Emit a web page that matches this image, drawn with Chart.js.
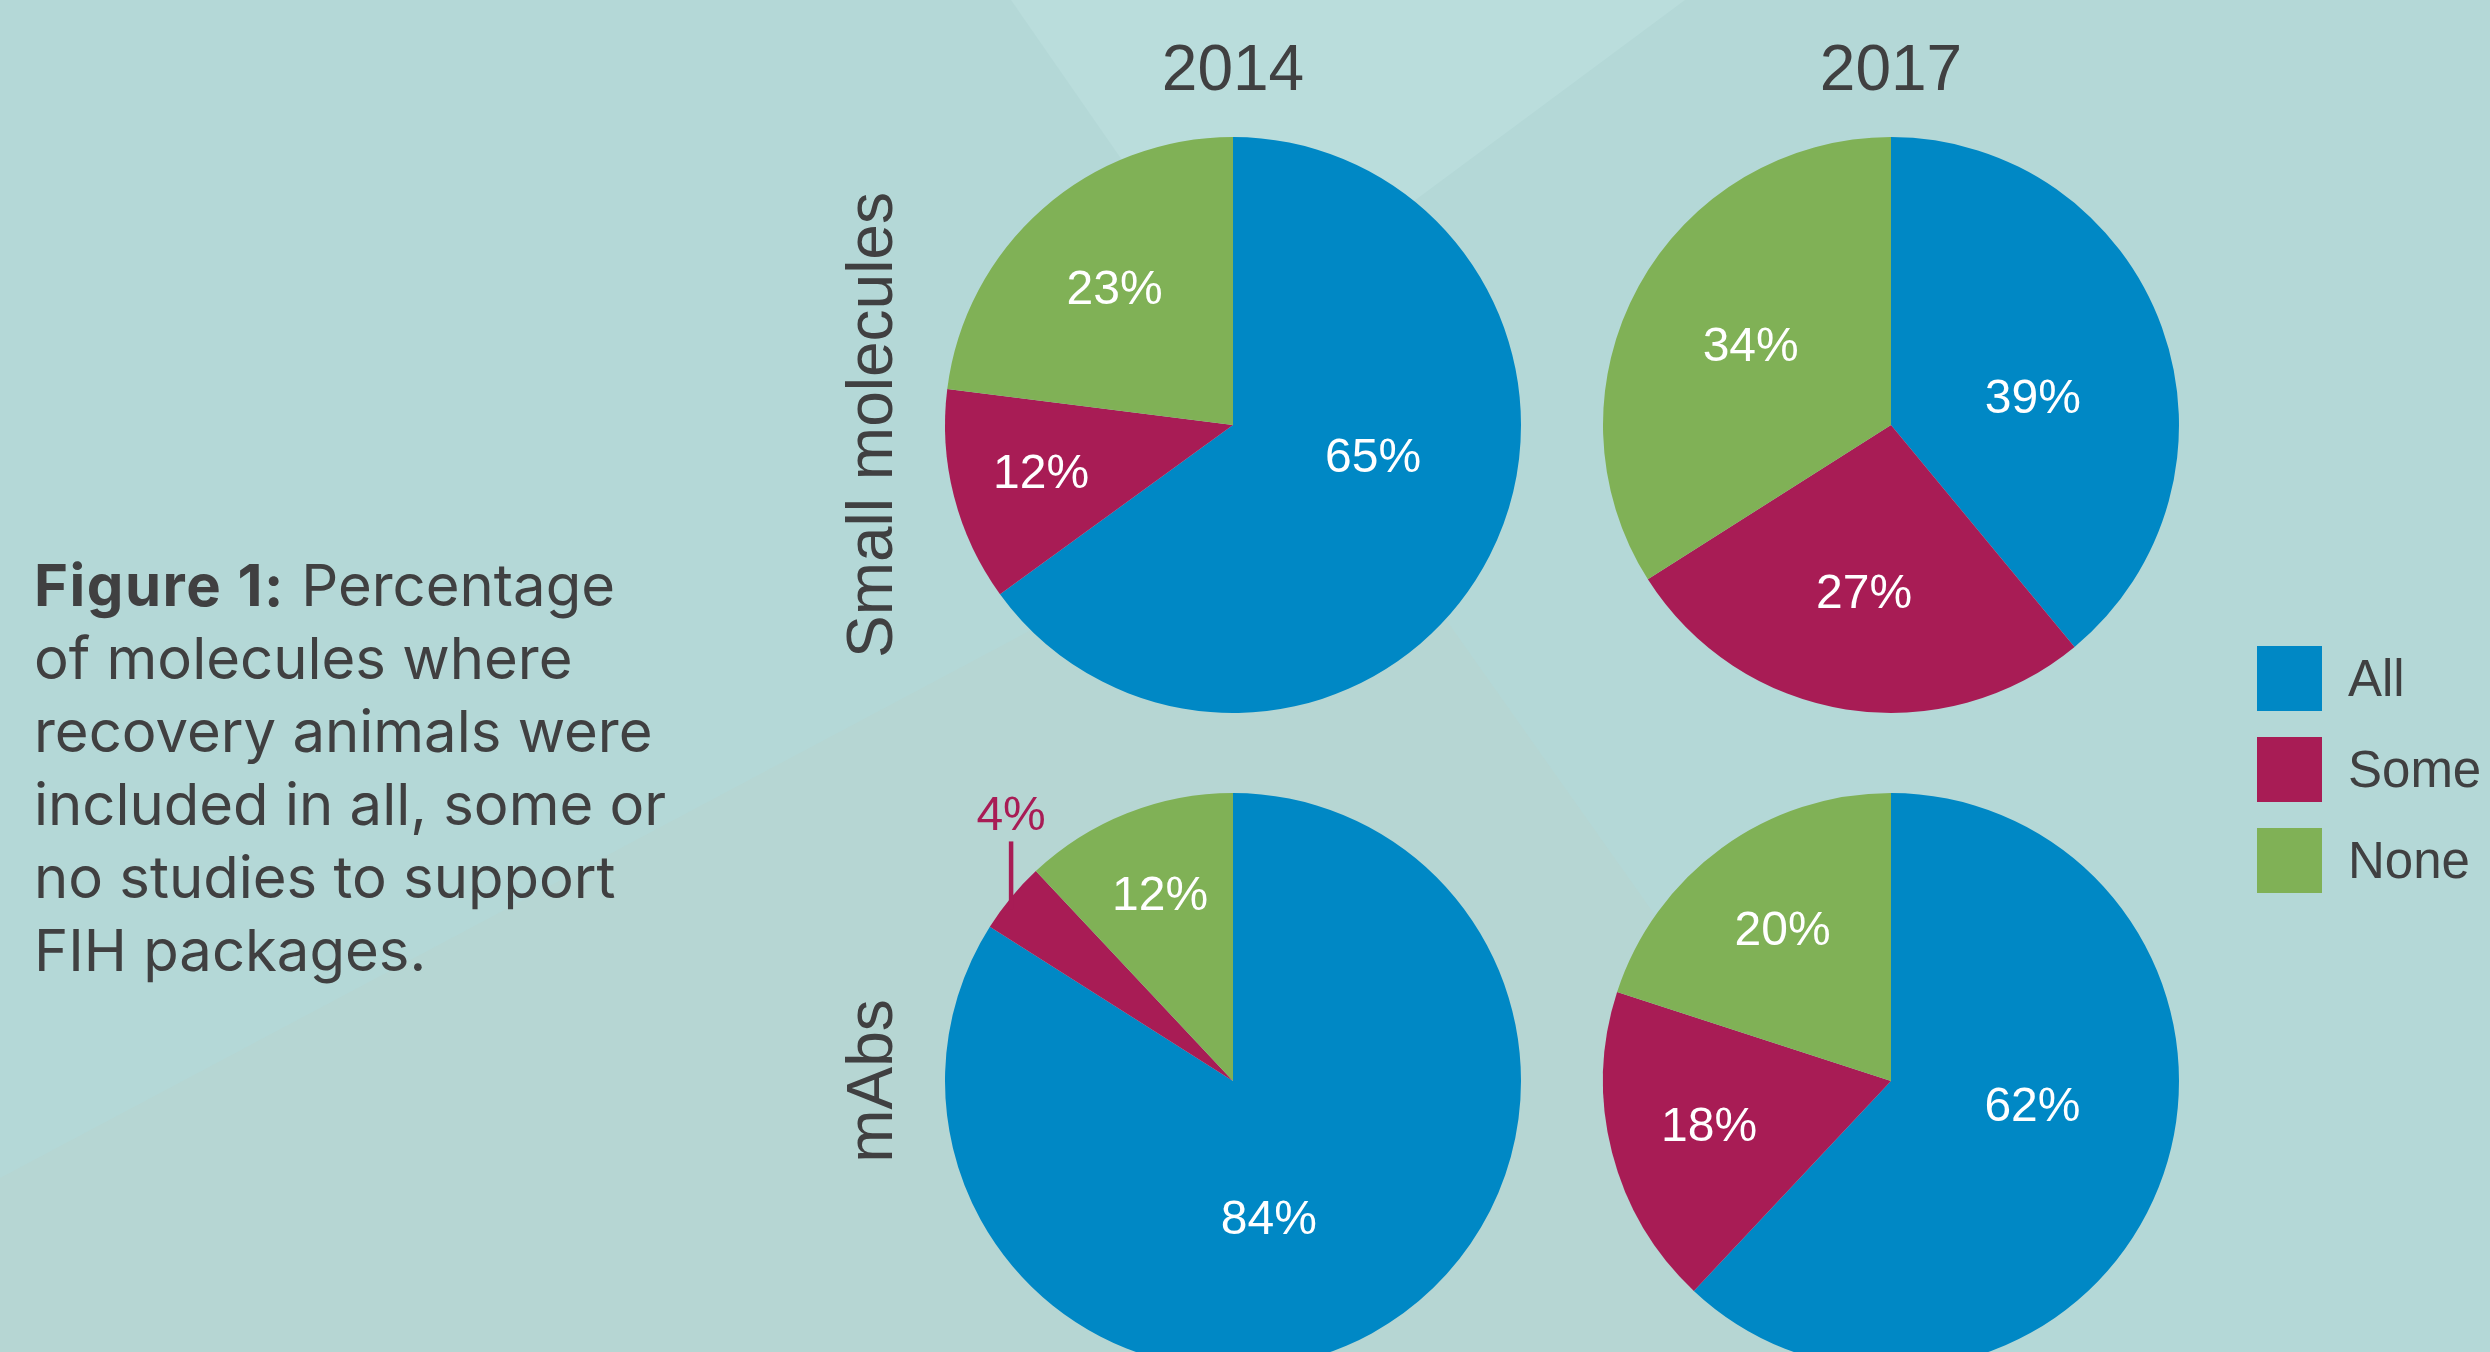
<!DOCTYPE html>
<html>
<head>
<meta charset="utf-8">
<script src="https://cdn.jsdelivr.net/npm/chart.js@4.4.1/dist/chart.umd.min.js"></script>
<style>
  html, body { margin: 0; padding: 0; }
  body {
    width: 2490px; height: 1352px; overflow: hidden; position: relative;
    background: #b4d8d7; color: #404041;
    font-family: "Liberation Sans", Arial, sans-serif;
  }
  #bg { position: absolute; left: 0; top: 0; }
  .caption {
    position: absolute; left: 34px; top: 549px;
    font-family: Inter, "Open Sans", sans-serif; font-size: 58px; line-height: 73px;
  }
  .caption b { font-weight: 700; letter-spacing: 1.5px; }
  .col-title {
    position: absolute; width: 300px; text-align: center;
    font-size: 64px; line-height: 64px; top: 36px;
  }
  .row-title {
    position: absolute; width: 600px; text-align: center;
    font-size: 64px; line-height: 64px;
    transform: translate(-50%, -50%) rotate(-90deg);
  }
  .pie { position: absolute; width: 600px; height: 600px; }
  .legend { position: absolute; left: 2257px; top: 646px; }
  .legend div { display: flex; align-items: center; height: 65px; margin-bottom: 26px; font-size: 51px; }
  .legend span.sw { width: 65px; height: 65px; margin-right: 26px; }
</style>
</head>
<body>
<svg id="bg" width="2490" height="1352">
  <polygon points="1011,0 1685,0 1240,330" fill="#badddc"/>
  <polygon points="1338,467 0,1178 0,1352 1964,1352" fill="#b6d6d3"/>
</svg>

<div class="caption"><b>Figure 1:</b> Percentage<br>of molecules where<br>recovery animals were<br>included in all, some or<br>no studies to support<br>FIH packages.</div>

<div id="titles"></div>
<div class="legend" id="legend"></div>

<canvas id="pie0" class="pie" width="600" height="600"></canvas>
<canvas id="pie1" class="pie" width="600" height="600"></canvas>
<canvas id="pie2" class="pie" width="600" height="600"></canvas>
<canvas id="pie3" class="pie" width="600" height="600"></canvas>

<script>
const categories = ["All", "Some", "None"];
const years = ["2014", "2017"];
const groups = ["Small molecules", "mAbs"];

const small2014 = [65, 12, 23];
const small2017 = [39, 27, 34];
const mabs2014 = [84, 4, 12];
const mabs2017 = [62, 18, 20];

const colors = ["#0088c5", "#a81c55", "#80b156"];

// layout of the 2x2 grid of pies
const colX = [1233, 1891];
const rowY = [425, 1081];

const pies = [
  { values: small2014, col: 0, row: 0 },
  { values: small2017, col: 1, row: 0 },
  { values: mabs2014, col: 0, row: 1 },
  { values: mabs2017, col: 1, row: 1 }
];

// column + row titles
const titles = document.getElementById("titles");
years.forEach((y, i) => {
  const d = document.createElement("div");
  d.className = "col-title";
  d.style.left = (colX[i] - 150) + "px";
  d.textContent = y;
  titles.appendChild(d);
});
groups.forEach((g, i) => {
  const d = document.createElement("div");
  d.className = "row-title";
  d.style.left = "870px";
  d.style.top = rowY[i] + "px";
  d.textContent = g;
  titles.appendChild(d);
});

// legend
const legend = document.getElementById("legend");
categories.forEach((c, i) => {
  const row = document.createElement("div");
  row.innerHTML = `<span class="sw" style="background:${colors[i]}"></span><span>${c}</span>`;
  legend.appendChild(row);
});

// percent labels drawn on the slices ("best fit" style)
const sliceLabels = {
  id: "sliceLabels",
  afterDatasetsDraw(chart) {
    const ctx = chart.ctx;
    const meta = chart.getDatasetMeta(0);
    const values = chart.data.datasets[0].data;
    ctx.save();
    ctx.font = "48px 'Liberation Sans', Arial, sans-serif";
    ctx.textAlign = "center";
    meta.data.forEach((arc, i) => {
      let mid = (arc.startAngle + arc.endAngle) / 2;
      const r = arc.outerRadius;
      const v = values[i];
      if (v < 5) {
        // small slice: label outside with a leader line
        const ax = arc.x + Math.cos(mid) * r;
        const ay = arc.y + Math.sin(mid) * r;
        ctx.strokeStyle = colors[i];
        ctx.lineWidth = 4.5;
        ctx.beginPath();
        ctx.moveTo(ax, ay + 12);
        ctx.lineTo(ax, ay - 56);
        ctx.stroke();
        ctx.fillStyle = colors[i];
        ctx.textBaseline = "alphabetic";
        ctx.fillText(v + "%", ax, ay - 67);
        return;
      }
      let f;
      if (v >= 35) {
        // big slices: half radius, nudged toward the nearest axis
        const q = Math.round(mid / (Math.PI / 2)) * (Math.PI / 2);
        mid = mid + (q - mid) * 0.5;
        f = 0.5;
      } else {
        f = 0.76 - 0.006 * v;
      }
      ctx.fillStyle = "#ffffff";
      ctx.textBaseline = "middle";
      ctx.fillText(v + "%", arc.x + Math.cos(mid) * r * f, arc.y + Math.sin(mid) * r * f);
    });
    ctx.restore();
  }
};

pies.forEach((p, i) => {
  const canvas = document.getElementById("pie" + i);
  canvas.style.left = (colX[p.col] - 300) + "px";
  canvas.style.top = (rowY[p.row] - 300) + "px";
  new Chart(canvas, {
    type: "pie",
    data: {
      labels: categories,
      datasets: [{
        data: p.values,
        backgroundColor: colors,
        borderWidth: 0
      }]
    },
    options: {
      responsive: false,
      animation: false,
      layout: { padding: 12 },
      plugins: { legend: { display: false }, tooltip: { enabled: false } }
    },
    plugins: [sliceLabels]
  });
});
</script>
</body>
</html>
